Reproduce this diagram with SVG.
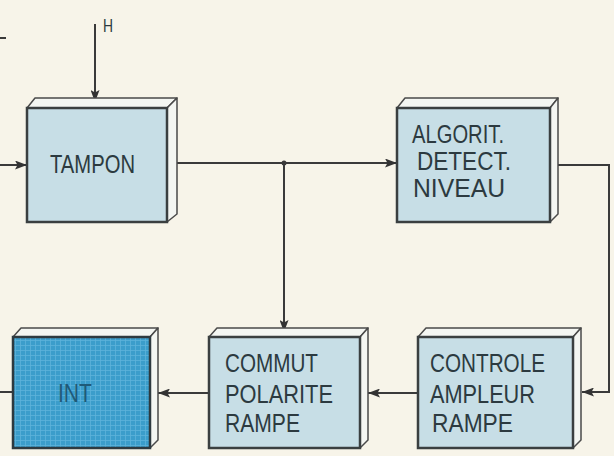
<svg xmlns="http://www.w3.org/2000/svg" width="614" height="456" viewBox="0 0 614 456">
<defs>
<marker id="arr" viewBox="0 0 12 9" refX="12" refY="4.5" markerWidth="12" markerHeight="9" markerUnits="userSpaceOnUse" orient="auto">
<path d="M0,0 L12,4.5 L0,9 L2.5,4.5 Z" fill="#333"/>
</marker>
<pattern id="grid" width="5" height="5" patternUnits="userSpaceOnUse">
<rect width="5" height="5" fill="#3b9dcb"/>
<path d="M0,0.5 H5 M0.5,0 V5" stroke="#5db3da" stroke-width="0.8" fill="none"/>
</pattern>
<style>
.front{fill:#c7dee6;stroke:#3a3f40;stroke-width:2.5}
.int{fill:url(#grid);stroke:#2e3a40;stroke-width:2.5}
.side{fill:#f4f6f2;stroke:#4a4a4a;stroke-width:1.5;stroke-linejoin:round}
.lbl{font-family:"Liberation Sans",Arial,sans-serif;font-size:25px;fill:#2c3a40}
.wire{stroke:#3a3a3a;stroke-width:2;fill:none}
</style>
</defs>
<rect width="614" height="456" fill="#f7f4e9"/>

<g id="connectors">
<line class="wire" x1="0" y1="38" x2="6" y2="38"/>
<line class="wire" x1="95" y1="24" x2="95" y2="102" marker-end="url(#arr)"/>
<line class="wire" x1="0" y1="165" x2="27" y2="165" marker-end="url(#arr)"/>
<line class="wire" x1="177" y1="163" x2="397" y2="163" marker-end="url(#arr)"/>
<circle cx="284" cy="163" r="2.5" fill="#3a3a3a"/>
<line class="wire" x1="284" y1="163" x2="284" y2="332" marker-end="url(#arr)"/>
<polyline class="wire" points="557,165 609,165 609,392 582,392" marker-end="url(#arr)"/>
<line class="wire" x1="418" y1="393" x2="368" y2="393" marker-end="url(#arr)"/>
<line class="wire" x1="209" y1="393" x2="158" y2="393" marker-end="url(#arr)"/>
<line class="wire" x1="13" y1="392" x2="0" y2="392"/>
<text x="103" y="32" textLength="10" lengthAdjust="spacingAndGlyphs" style="font-family:'Liberation Sans',Arial,sans-serif;font-size:19px;fill:#2c3a40">H</text>
</g>

<g id="tampon">
<polygon class="side" points="27,108 35,98 177,98 167,108"/>
<polygon class="side" points="167,108 177,98 177,214 167,222"/>
<rect class="front" x="27" y="108" width="140" height="114"/>
<text class="lbl" x="50" y="173" textLength="85" lengthAdjust="spacingAndGlyphs">TAMPON</text>
</g>

<g id="algorit">
<polygon class="side" points="397,108 405,98 558,98 550,108"/>
<polygon class="side" points="550,108 558,98 558,214 550,222"/>
<rect class="front" x="397" y="108" width="153" height="114"/>
<text class="lbl" x="412" y="143" textLength="92" lengthAdjust="spacingAndGlyphs">ALGORIT.</text>
<text class="lbl" x="417" y="170" textLength="94" lengthAdjust="spacingAndGlyphs">DETECT.</text>
<text class="lbl" x="413" y="197" textLength="92" lengthAdjust="spacingAndGlyphs">NIVEAU</text>
</g>

<g id="int">
<polygon class="side" points="13,337 21,328 158,328 150,337"/>
<polygon class="side" points="150,337 158,328 158,440 150,448"/>
<rect class="int" x="13" y="337" width="137" height="111"/>
<text class="lbl" x="58" y="402" textLength="34" lengthAdjust="spacingAndGlyphs" style="fill:#1f5a78">INT</text>
</g>

<g id="commut">
<polygon class="side" points="209,337 217,328 368,328 360,337"/>
<polygon class="side" points="360,337 368,328 368,440 360,448"/>
<rect class="front" x="209" y="337" width="151" height="111"/>
<text class="lbl" x="225" y="372" textLength="93" lengthAdjust="spacingAndGlyphs">COMMUT</text>
<text class="lbl" x="225" y="403" textLength="108" lengthAdjust="spacingAndGlyphs">POLARITE</text>
<text class="lbl" x="225" y="432" textLength="75" lengthAdjust="spacingAndGlyphs">RAMPE</text>
</g>

<g id="controle">
<polygon class="side" points="418,337 426,328 581,328 573,337"/>
<polygon class="side" points="573,337 581,328 581,440 573,448"/>
<rect class="front" x="418" y="337" width="155" height="111"/>
<text class="lbl" x="430" y="372" textLength="115" lengthAdjust="spacingAndGlyphs">CONTROLE</text>
<text class="lbl" x="430" y="403" textLength="105" lengthAdjust="spacingAndGlyphs">AMPLEUR</text>
<text class="lbl" x="432" y="432" textLength="81" lengthAdjust="spacingAndGlyphs">RAMPE</text>
</g>
</svg>
